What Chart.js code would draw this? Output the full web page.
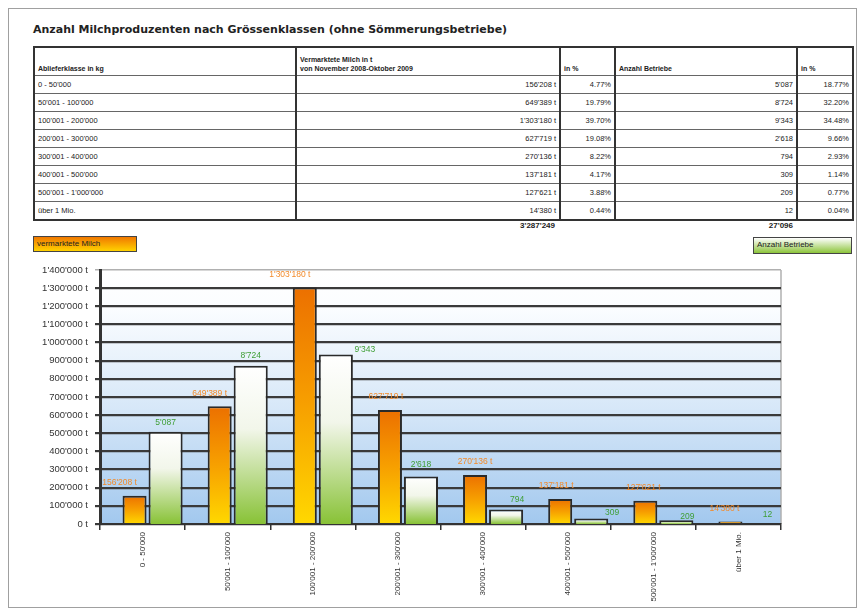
<!DOCTYPE html>
<html><head><meta charset="utf-8">
<script src="https://cdn.jsdelivr.net/npm/chart.js@4.4.0/dist/chart.umd.min.js"></script>
<style>
body{margin:0;width:864px;height:614px;background:#fff;position:relative;font-family:Arial,"Liberation Sans",sans-serif;overflow:hidden;color:#222}
#frame{position:absolute;left:8px;top:8px;width:847px;height:598px;border:1px solid #a0a0a0}
#title{position:absolute;left:33px;top:23px;font-weight:bold;font-size:11px;font-family:"DejaVu Sans",Verdana,sans-serif;color:#222;white-space:nowrap}
#tbl{position:absolute;left:33px;top:46px;border-collapse:collapse;table-layout:fixed;font-size:7.5px;border:2px solid #333}
#tbl td{border-top:1px solid #666;border-bottom:1px solid #666;border-left:2px solid #333;border-right:2px solid #333;padding:0 3px;height:17px;line-height:9px;white-space:nowrap;overflow:hidden}
#tbl tr.h td{height:25px;vertical-align:bottom;font-weight:bold;font-size:7px;padding-bottom:2px}
#tbl td.n{text-align:right}
.tot{position:absolute;top:221px;font-weight:bold;font-size:8px;text-align:right}
.lg{position:absolute;font-size:8px;border:1.5px solid #444;box-sizing:border-box;padding-left:3px;line-height:13px;white-space:nowrap}
#wrap{position:absolute;left:0;top:256px;width:864px;height:350px}
</style></head>
<body>
<div id="frame"></div>
<div id="title">Anzahl Milchproduzenten nach Grössenklassen (ohne Sömmerungsbetriebe)</div>
<table id="tbl"><colgroup><col style="width:262px"><col style="width:264px"><col style="width:55px"><col style="width:182px"><col style="width:56px"></colgroup><tbody id="tb"></tbody></table>
<div class="tot" id="tot1" style="left:440px;width:115px"></div>
<div class="tot" id="tot2" style="left:700px;width:93px"></div>
<div class="lg" style="left:33px;top:236px;width:104px;height:16px;background:linear-gradient(#f07800,#ffd200)">vermarktete Milch</div>
<div class="lg" style="left:753px;top:237px;width:99px;height:17px;background:linear-gradient(#ffffff,#8cc43a)">Anzahl Betriebe</div>
<div id="wrap"><canvas id="c" width="864" height="350"></canvas></div>
<script>
// ---- data ----
const categories = ["0 - 50'000","50'001 - 100'000","100'001 - 200'000","200'001 - 300'000","300'001 - 400'000","400'001 - 500'000","500'001 - 1'000'000","über 1 Mio."];
const milk = [156208, 649389, 1303180, 627719, 270136, 137181, 127621, 14380];
const milkPct = ["4.77%","19.79%","39.70%","19.08%","8.22%","4.17%","3.88%","0.44%"];
const farms = [5087, 8724, 9343, 2618, 794, 309, 209, 12];
const farmsPct = ["18.77%","32.20%","34.48%","9.66%","2.93%","1.14%","0.77%","0.04%"];
const milkTotal = "3'287'249";
const farmsTotal = "27'096";
const headers = ["Ablieferklasse in kg","Vermarktete Milch in t<br>von November 2008-Oktober 2009","in %","Anzahl Betriebe","in %"];
const yTicksMax = 1400000, yTicksStep = 100000;

// ---- style helpers ----
const milkLabelDx = [-15,-10,-15,-4,0,-4,-2,-6];
const farmLabelDx = [0,0,29,0,11,21,11,6];
const farmLabelDy = [9,10,5,12,10,6,4,9];

const fmt = n => String(Math.round(n)).replace(/\B(?=(\d{3})+(?!\d))/g, "'");

// table
const tb = document.getElementById('tb');
let html = '<tr class="h">' + headers.map(h=>'<td>'+h+'</td>').join('') + '</tr>';
categories.forEach((c,i)=>{
  html += '<tr><td>'+c+'</td><td class="n">'+fmt(milk[i])+' t</td><td class="n">'+milkPct[i]+'</td><td class="n">'+fmt(farms[i])+'</td><td class="n">'+farmsPct[i]+'</td></tr>';
});
tb.innerHTML = html;
document.getElementById('tot1').textContent = milkTotal;
document.getElementById('tot2').textContent = farmsTotal;

function barFill(stops){
  return (c) => {
    const chart = c.chart;
    if (c.type !== 'data' || !chart.chartArea) return stops[stops.length-1][1];
    const sc = chart.scales[c.dataset.yAxisID];
    const top = sc.getPixelForValue(c.parsed.y), base = sc.getPixelForValue(0);
    const g = chart.ctx.createLinearGradient(0, top, 0, Math.max(base, top+1));
    stops.forEach(s=>g.addColorStop(s[0], s[1]));
    return g;
  };
}

const bgPlugin = {
  id:'bg',
  beforeDraw(chart){
    const {ctx, chartArea:a} = chart;
    const g = ctx.createLinearGradient(0,a.top,0,a.bottom);
    g.addColorStop(0,'#ffffff'); g.addColorStop(0.15,'#fbfdff'); g.addColorStop(0.55,'#d6e7f8'); g.addColorStop(1,'#a2c8ee');
    ctx.save(); ctx.fillStyle=g; ctx.fillRect(a.left,a.top,a.right-a.left,a.bottom-a.top);
    ctx.strokeStyle='#b0b0b0'; ctx.lineWidth=1.5;
    ctx.beginPath(); ctx.moveTo(a.right,a.top); ctx.lineTo(a.right,a.bottom); ctx.stroke();
    ctx.restore();
  }
};
const labelPlugin = {
  id:'vlabels',
  afterDatasetsDraw(chart){
    const ctx = chart.ctx;
    ctx.save();
    ctx.font = '8.5px Arial, "Liberation Sans", sans-serif';
    ctx.textAlign='center'; ctx.textBaseline='middle';
    chart.data.datasets.forEach((ds,i)=>{
      const meta = chart.getDatasetMeta(i);
      meta.data.forEach((el,j)=>{
        if (i===0){ ctx.fillStyle='#f28a2a'; ctx.fillText(fmt(ds.data[j])+' t', el.x+milkLabelDx[j], el.y-13); }
        else { ctx.fillStyle='#3f9e35'; ctx.fillText(fmt(ds.data[j]), el.x+farmLabelDx[j], el.y-farmLabelDy[j]); }
      });
    });
    ctx.restore();
  }
};

new Chart(document.getElementById('c'), {
  type:'bar',
  data:{
    labels: categories,
    datasets:[
      {label:'vermarktete Milch', data: milk, yAxisID:'y', stack:'a',
       backgroundColor: barFill([[0,'#ec7000'],[0.5,'#f7a000'],[1,'#ffd800']]),
       borderColor:'#2a2a2a', borderWidth:2, categoryPercentage:0.376, barPercentage:1.5},
      {label:'Anzahl Betriebe', data: farms, yAxisID:'y2', stack:'b',
       backgroundColor: barFill([[0,'#ffffff'],[0.4,'#f2f6ea'],[1,'#88c236']]),
       borderColor:'#2a2a2a', borderWidth:2, categoryPercentage:1.082, barPercentage:0.74}
    ]
  },
  options:{
    responsive:false, animation:false,
    layout:{padding:{left:0,right:83,top:14,bottom:0}},
    plugins:{legend:{display:false}, tooltip:{enabled:false}},
    scales:{
      x:{
        offset:true,
        grid:{drawOnChartArea:false, drawTicks:true, tickLength:6, color:'#333', lineWidth:1.5, offset:true},
        border:{display:true, color:'#333', width:2},
        ticks:{minRotation:90, maxRotation:90, autoSkip:false, color:'#333', padding:2, font:{size:8, family:'Arial, "Liberation Sans", sans-serif'}},
        afterFit(s){ s.height = 82; }
      },
      y:{
        min:0, max:yTicksMax,
        ticks:{stepSize:yTicksStep, color:'#333', padding:7, font:{size:9.5, family:'Arial, "Liberation Sans", sans-serif'}, callback:v=>fmt(v)+' t'},
        grid:{color:c=> (c.tick && c.tick.value===yTicksMax) ? '#b0b0b0' : '#3a3a3a', lineWidth:c=> (c.tick && c.tick.value===yTicksMax) ? 1.5 : 2.2, tickLength:5, drawTicks:true},
        border:{display:true, color:'#333', width:3},
        afterFit(s){ s.width = 100; }
      },
      y2:{display:false, min:0, max:14000}
    }
  },
  plugins:[bgPlugin, labelPlugin]
});
</script>
</body></html>
